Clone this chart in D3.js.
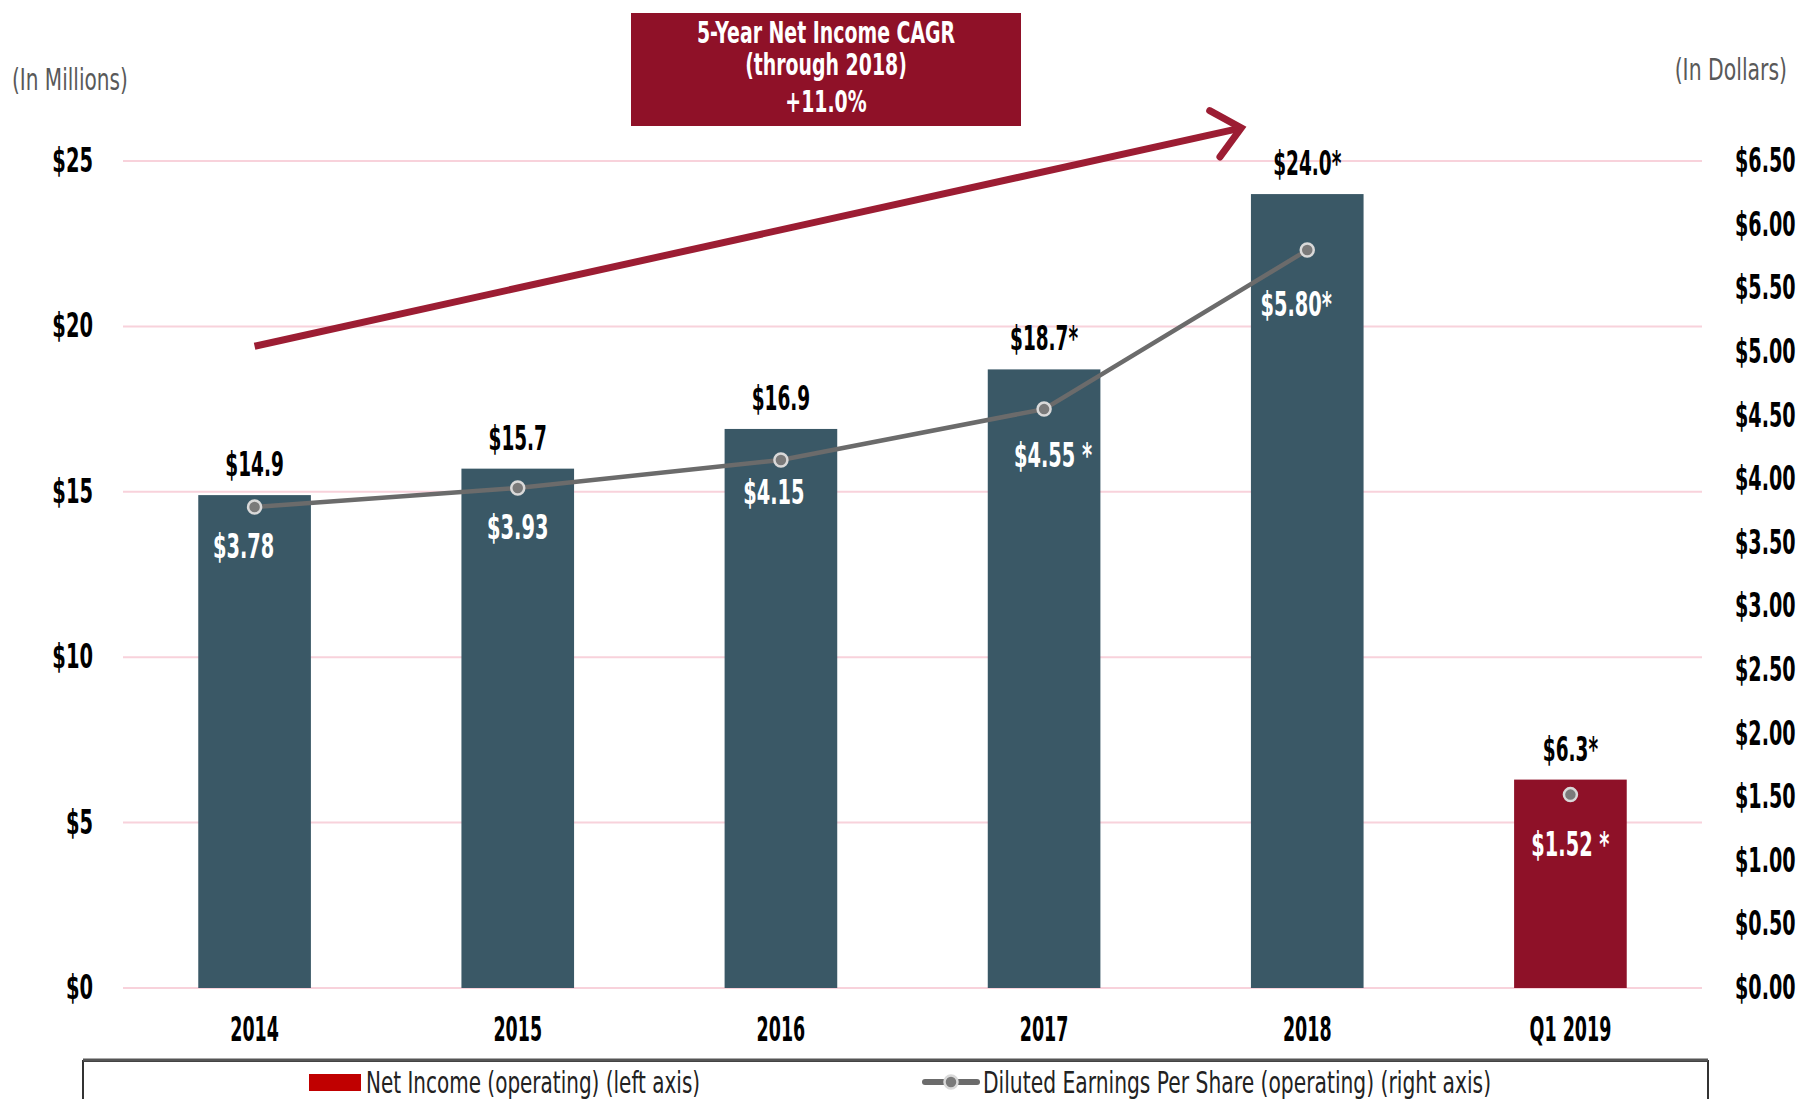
<!DOCTYPE html>
<html>
<head>
<meta charset="utf-8">
<script src="https://cdn.jsdelivr.net/npm/d3@7"></script>
<style>
  html, body { margin: 0; padding: 0; background: #fff; }
  svg { display: block; }
  text { font-family: "DejaVu Sans", sans-serif; }
</style>
</head>
<body>
<svg id="chart" width="1801" height="1099"></svg>
<script>
// Net income (millions) and diluted EPS (dollars), operating basis
const categories = ["2014", "2015", "2016", "2017", "2018", "Q1 2019"];
const netIncome = [14.9, 15.7, 16.9, 18.7, 24.0, 6.3];
const netIncomeLabels = ["$14.9", "$15.7", "$16.9", "$18.7*", "$24.0*", "$6.3*"];
const eps = [3.78, 3.93, 4.15, 4.55, 5.80, 1.52];
const epsLabels = ["$3.78", "$3.93", "$4.15", "$4.55 *", "$5.80*", "$1.52 *"];
const leftTicks = [0, 5, 10, 15, 20, 25];
const rightTicks = [0, 0.5, 1, 1.5, 2, 2.5, 3, 3.5, 4, 4.5, 5, 5.5, 6, 6.5];
const cagrLines = ["5-Year Net Income CAGR", "(through 2018)", "+11.0%"];
const legendItems = ["Net Income (operating) (left axis)", "Diluted Earnings Per Share (operating) (right axis)"];

// hand-placed nudges for the EPS data labels (dx, baseline below point)
const epsLabelNudge = [[-11, 51], [0, 51], [-7, 44], [9, 58], [-11, 66], [0, 61]];

const svg = d3.select("#chart");
const plotL = 123, plotR = 1702, plotT = 161, plotB = 988;

// narrow the glyphs horizontally around each text's anchor point
function condense(sel, s) {
  sel.each(function () {
    const t = d3.select(this);
    const tx = +t.attr("x") || 0, ty = +t.attr("y") || 0;
    t.attr("x", null).attr("y", null)
      .attr("transform", `translate(${tx},${ty}) scale(${s},1)`);
  });
}

const x = d3.scaleBand().domain(categories).range([plotL, plotR])
  .paddingInner(0.572).paddingOuter(0.286);
const yL = d3.scaleLinear().domain([0, 25]).range([plotB, plotT]);
const yR = d3.scaleLinear().domain([0, 6.5]).range([plotB, plotT]);
const cx = c => x(c) + x.bandwidth() / 2;

// gridlines
svg.append("g").selectAll("line").data(leftTicks).join("line")
  .attr("x1", plotL).attr("x2", plotR)
  .attr("y1", d => yL(d)).attr("y2", d => yL(d))
  .attr("stroke", "#f8d2db").attr("stroke-width", 2);

// left axis
const gL = svg.append("g").attr("transform", `translate(${plotL},0)`)
  .call(d3.axisLeft(yL).tickValues(leftTicks).tickFormat(d => "$" + d).tickSize(0).tickPadding(30));
gL.select(".domain").remove();
gL.attr("font-family", null);
gL.selectAll("text").attr("font-size", 33).attr("font-weight", "bold").attr("fill", "#000")
  .call(condense, 0.59);

// right axis
const gR = svg.append("g").attr("transform", `translate(${plotR},0)`)
  .call(d3.axisRight(yR).tickValues(rightTicks).tickFormat(d => "$" + d.toFixed(2)).tickSize(0).tickPadding(33));
gR.select(".domain").remove();
gR.attr("font-family", null);
gR.selectAll("text").attr("font-size", 33).attr("font-weight", "bold").attr("fill", "#000")
  .call(condense, 0.58);

// category axis
const gX = svg.append("g").attr("transform", `translate(0,${plotB})`)
  .call(d3.axisBottom(x).tickSize(0).tickPadding(30));
gX.select(".domain").remove();
gX.attr("font-family", null);
gX.selectAll("text").attr("font-size", 33).attr("font-weight", "bold").attr("fill", "#000")
  .call(condense, 0.53);

// axis unit captions
svg.append("text").attr("x", 12).attr("y", 90).attr("font-size", 30).attr("fill", "#595959")
  .text("(In Millions)").call(condense, 0.67);
svg.append("text").attr("x", 1787).attr("y", 80).attr("text-anchor", "end").attr("font-size", 30).attr("fill", "#595959")
  .text("(In Dollars)").call(condense, 0.68);

// bars
svg.append("g").selectAll("rect").data(categories).join("rect")
  .attr("x", d => x(d)).attr("width", x.bandwidth())
  .attr("y", (d, i) => yL(netIncome[i]))
  .attr("height", (d, i) => plotB - yL(netIncome[i]))
  .attr("fill", (d, i) => i === categories.length - 1 ? "#8e1128" : "#3a5866");

// bar value labels
svg.append("g").selectAll("text").data(categories).join("text")
  .attr("x", d => cx(d)).attr("y", (d, i) => yL(netIncome[i]) - 19)
  .attr("text-anchor", "middle").attr("font-size", 33).attr("font-weight", "bold").attr("fill", "#000")
  .text((d, i) => netIncomeLabels[i])
  .call(condense, 0.56);

// EPS line
const line = d3.line().x((d, i) => cx(categories[i])).y(d => yR(d));
svg.append("path").datum(eps.slice(0, 5))
  .attr("d", line).attr("fill", "none").attr("stroke", "#6b6b6b").attr("stroke-width", 4.5);

svg.append("g").selectAll("circle").data(eps).join("circle")
  .attr("cx", (d, i) => cx(categories[i])).attr("cy", d => yR(d)).attr("r", 6.5)
  .attr("fill", "#7a7a7a").attr("stroke", "#d9d9d9").attr("stroke-width", 2.5);

svg.append("g").selectAll("text").data(eps).join("text")
  .attr("x", (d, i) => cx(categories[i]) + epsLabelNudge[i][0])
  .attr("y", (d, i) => yR(d) + epsLabelNudge[i][1])
  .attr("text-anchor", "middle").attr("font-size", 34).attr("font-weight", "bold").attr("fill", "#fff")
  .text((d, i) => epsLabels[i])
  .call(condense, 0.57);

// CAGR trend arrow
const ax0 = cx("2014"), ay0 = yL(19.4);
const ax1 = cx("2018") - 66, ay1 = yL(26);
svg.append("line").attr("x1", ax0).attr("y1", ay0).attr("x2", ax1 - 4).attr("y2", ay1 + 1)
  .attr("stroke", "#9c1d33").attr("stroke-width", 7);
const ang = Math.atan2(ay1 - ay0, ax1 - ax0);
const armLen = 36, spread = 0.72;
const p1 = [ax1 - armLen * Math.cos(ang - spread), ay1 - armLen * Math.sin(ang - spread)];
const p2 = [ax1 - armLen * Math.cos(ang + spread), ay1 - armLen * Math.sin(ang + spread)];
svg.append("path").attr("d", `M${p1[0]},${p1[1]}L${ax1},${ay1}L${p2[0]},${p2[1]}`)
  .attr("fill", "none").attr("stroke", "#9c1d33").attr("stroke-width", 7)
  .attr("stroke-linejoin", "miter").attr("stroke-linecap", "round");

// CAGR callout box
svg.append("rect").attr("x", 631).attr("y", 13).attr("width", 390).attr("height", 113).attr("fill", "#8f1128");
svg.append("g").selectAll("text").data(cagrLines).join("text")
  .attr("x", 826).attr("y", (d, i) => [43, 75, 112][i])
  .attr("text-anchor", "middle").attr("font-size", 31).attr("font-weight", "bold").attr("fill", "#fff")
  .text(d => d)
  .call(condense, 0.61);

// legend
svg.append("rect").attr("x", 83).attr("y", 1061).attr("width", 1625).attr("height", 60)
  .attr("fill", "none").attr("stroke", "#333").attr("stroke-width", 2);
svg.append("line").attr("x1", 83).attr("x2", 1708).attr("y1", 1060).attr("y2", 1060)
  .attr("stroke", "#555").attr("stroke-width", 3);
svg.append("rect").attr("x", 309).attr("y", 1074).attr("width", 52).attr("height", 17).attr("fill", "#c00000");
svg.append("text").attr("x", 366).attr("y", 1093).attr("font-size", 31).attr("fill", "#222")
  .text(legendItems[0]).call(condense, 0.645);
svg.append("line").attr("x1", 925).attr("x2", 977).attr("y1", 1082).attr("y2", 1082)
  .attr("stroke", "#6b6b6b").attr("stroke-width", 6).attr("stroke-linecap", "round");
svg.append("circle").attr("cx", 951).attr("cy", 1082).attr("r", 6.5)
  .attr("fill", "#7a7a7a").attr("stroke", "#d9d9d9").attr("stroke-width", 2.5);
svg.append("text").attr("x", 983).attr("y", 1093).attr("font-size", 31).attr("fill", "#222")
  .text(legendItems[1]).call(condense, 0.654);
</script>
</body>
</html>
